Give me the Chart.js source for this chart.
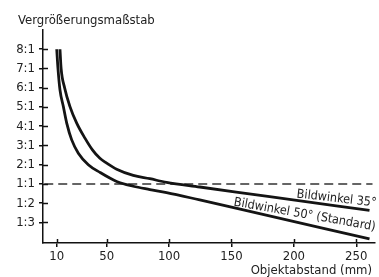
<!DOCTYPE html>
<html>
<head>
<meta charset="utf-8">
<script src="https://cdn.jsdelivr.net/npm/chart.js@4"></script>
<style>
  html, body { margin: 0; padding: 0; background: #fff; }
  #wrap { width: 379px; height: 277px; }
</style>
</head>
<body>
<div id="wrap"><canvas id="grafik"></canvas></div>
<script>
// Daten
const xTicks = [10, 50, 100, 150, 200, 250];
const yTickWerte = [8, 7, 6, 5, 4, 3, 2, 1, 0, -1];
const yTickLabels = ['8:1', '7:1', '6:1', '5:1', '4:1', '3:1', '2:1', '1:1', '1:2', '1:3'];

// Bildwinkel 50° (Standard)
const abstand50 = [10, 11, 12.6, 15.3, 18, 22, 27.3, 35.3, 44.6, 58, 71.3, 84.6, 98, 124.6, 150, 260.6];
const massstab50 = [8, 7, 5.89, 5.02, 4.16, 3.29, 2.6, 2.0, 1.6, 1.13, 0.88, 0.71, 0.55, 0.17, -0.2, -1.86];

// Bildwinkel 35°
const abstand35 = [12.6, 13.5, 16.3, 20.6, 26, 32.6, 38.6, 44.6, 50, 58, 71.3, 84.6, 98, 124.6, 180.6, 260.6];
const massstab35 = [8, 7, 6, 5.02, 4.16, 3.38, 2.77, 2.33, 2.08, 1.76, 1.44, 1.27, 1.08, 0.84, 0.34, -0.38];

// 1:1 Referenzlinie
const referenzAbstand = [0, 263];
const referenzWert = [1, 1];

const schrift = "'Liberation Sans Narrow', 'DejaVu Sans Condensed', 'Liberation Sans', sans-serif";

function punkte(xs, ys) {
    return xs.map((x, i) => ({ x: x, y: ys[i] }));
}

// Zeichnet Beschriftungen und den inneren Teil der Teilstriche
const extras = {
    id: 'extras',
    afterDraw(chart) {
        const c = chart.ctx;
        const xs = chart.scales.x, ys = chart.scales.y;
        c.save();
        c.strokeStyle = '#111';
        c.lineWidth = 1.5;
        yTickWerte.forEach(v => {
            const py = Math.round(ys.getPixelForValue(v)) + 0.5;
            c.beginPath();
            c.moveTo(xs.left, py);
            c.lineTo(xs.left + 5, py);
            c.stroke();
        });
        xTicks.forEach(v => {
            const px = Math.round(xs.getPixelForValue(v)) + 0.5;
            c.beginPath();
            c.moveTo(px, ys.bottom);
            c.lineTo(px, ys.bottom - 4);
            c.stroke();
        });

        c.fillStyle = '#222';
        c.font = '13px ' + schrift;
        c.textBaseline = 'middle';
        c.textAlign = 'left';
        c.fillText('Vergrößerungsmaßstab', 18, 21);
        c.textAlign = 'right';
        c.fillText('Objektabstand (mm)', 372, 271);

        c.font = '12.5px ' + schrift;
        c.textBaseline = 'alphabetic';
        c.textAlign = 'left';
        c.save();
        c.translate(xs.getPixelForValue(202), ys.getPixelForValue(0.3));
        c.rotate(6.5 * Math.PI / 180);
        c.fillText('Bildwinkel 35°', 0, 0);
        c.restore();
        c.save();
        c.translate(xs.getPixelForValue(151.5), ys.getPixelForValue(-0.12));
        c.rotate(10 * Math.PI / 180);
        c.fillText('Bildwinkel 50° (Standard)', 0, 0);
        c.restore();
        c.restore();
    }
};

const ctx = document.getElementById('grafik').getContext('2d');
new Chart(ctx, {
    type: 'scatter',
    data: {
        datasets: [
            {
                label: 'Bildwinkel 50° (Standard)',
                data: punkte(abstand50, massstab50),
                showLine: true,
                borderColor: '#141414',
                borderWidth: 2.8,
                pointRadius: 0,
                cubicInterpolationMode: 'monotone'
            },
            {
                label: 'Bildwinkel 35°',
                data: punkte(abstand35, massstab35),
                showLine: true,
                borderColor: '#141414',
                borderWidth: 2.8,
                pointRadius: 0,
                cubicInterpolationMode: 'monotone'
            },
            {
                label: '1:1',
                data: punkte(referenzAbstand, referenzWert),
                showLine: true,
                borderColor: '#333',
                borderWidth: 1.5,
                borderDash: [9, 5],
                pointRadius: 0
            }
        ]
    },
    options: {
        responsive: true,
        maintainAspectRatio: false,
        animation: false,
        layout: { padding: { top: 30, right: 4, left: 0, bottom: 0 } },
        scales: {
            x: {
                type: 'linear',
                min: -1,
                max: 265,
                afterBuildTicks: s => { s.ticks = xTicks.map(v => ({ value: v })); },
                afterFit: s => { s.height = 34; },
                ticks: {
                    color: '#222',
                    font: { family: schrift, size: 13 },
                    padding: 2,
                    maxRotation: 0
                },
                grid: { drawOnChartArea: false, color: '#111', lineWidth: 1.5, tickLength: 4 },
                border: { color: '#111', width: 1.5 }
            },
            y: {
                type: 'linear',
                min: -2.07,
                max: 9,
                afterBuildTicks: s => { s.ticks = yTickWerte.map(v => ({ value: v })); },
                afterFit: s => { s.width = 43; },
                ticks: {
                    color: '#222',
                    font: { family: schrift, size: 13 },
                    padding: 4,
                    callback: v => yTickLabels[yTickWerte.indexOf(v)]
                },
                grid: { drawOnChartArea: false, color: '#111', lineWidth: 1.5, tickLength: 4 },
                border: { color: '#111', width: 1.5 }
            }
        },
        plugins: {
            legend: { display: false },
            tooltip: { enabled: false }
        }
    },
    plugins: [extras]
});
</script>
</body>
</html>
